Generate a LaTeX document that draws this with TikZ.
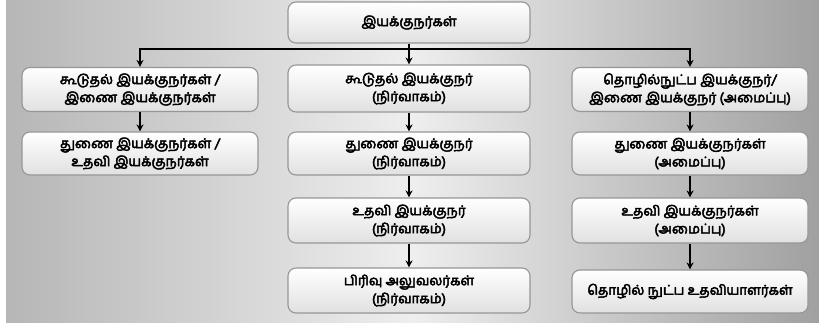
\documentclass[tikz,border=0pt]{standalone}
\usepackage{fontspec}
\newfontfamily\tamilfont[Script=Tamil,AutoFakeBold=3.5]{Hind Madurai}
\usetikzlibrary{arrows.meta}

\definecolor{bgleft}{RGB}{182,182,182}
\definecolor{bgmid}{RGB}{238,238,238}
\definecolor{bgright}{RGB}{160,160,160}
\definecolor{boxline}{RGB}{150,150,150}

\begin{document}
\begin{tikzpicture}[x=1pt,y=-1pt,
		post/.style={draw=boxline,line width=1.1pt,rounded corners=8pt,
			top color=white,bottom color=black!12,
			minimum width=236pt,minimum height=44pt,align=center,
			font=\tamilfont\bfseries\fontsize{13.5}{18}\selectfont,inner sep=2pt},
		wide/.style={minimum width=242pt},
		link/.style={line width=1.1pt,-{Stealth[length=7pt,width=7pt]}}]
	% background
	\useasboundingbox (0,0) rectangle (819,326);
	\shade[left color=bgleft,right color=bgright,middle color=bgmid] (6,0) rectangle (819,322);
	% top
	\node[post,wide,minimum height=41pt] (head) at (409,22.5) {இயக்குநர்கள்};
	\coordinate (hub) at (409,49);
	% left column
	\node[post] (l1) at (140,89.5) {கூடுதல் இயக்குநர்கள் /\\இணை இயக்குநர்கள்};
	\node[post,minimum height=43pt] (l2) at (140,153.5) {துணை இயக்குநர்கள் /\\உதவி இயக்குநர்கள்};
	% middle column
	\node[post,wide,minimum height=47pt] (m1) at (409,88.5) {கூடுதல் இயக்குநர்\\(நிர்வாகம்)};
	\node[post,wide,minimum height=43pt] (m2) at (409,153.5) {துணை இயக்குநர்\\(நிர்வாகம்)};
	\node[post,wide,minimum height=45pt] (m3) at (409,220.5) {உதவி இயக்குநர்\\(நிர்வாகம்)};
	\node[post,wide,minimum height=45pt] (m4) at (409,290.5) {பிரிவு அலுவலர்கள்\\(நிர்வாகம்)};
	% right column
	\node[post] (r1) at (690,89.5) {தொழில்நுட்ப இயக்குநர்/\\இணை இயக்குநர் (அமைப்பு)};
	\node[post,minimum height=43pt] (r2) at (690,153.5) {துணை இயக்குநர்கள்\\(அமைப்பு)};
	\node[post,minimum height=45pt] (r3) at (690,220.5) {உதவி இயக்குநர்கள்\\(அமைப்பு)};
	\node[post,minimum height=43pt] (r4) at (690,291.5) {தொழில் நுட்ப உதவியாளர்கள்};
	% connectors
	\draw[line width=1.1pt] (head) -- (hub);
	\draw[link] (hub) -| (l1);
	\draw[link] (hub) -- (m1);
	\draw[link] (hub) -| (r1);
	\draw[link] (l1) -- (l2);
	\draw[link] (m1) -- (m2);
	\draw[link] (m2) -- (m3);
	\draw[link] (m3) -- (m4);
	\draw[link] (r1) -- (r2);
	\draw[link] (r2) -- (r3);
	\draw[link] (r3) -- (r4);
\end{tikzpicture}
\end{document}
